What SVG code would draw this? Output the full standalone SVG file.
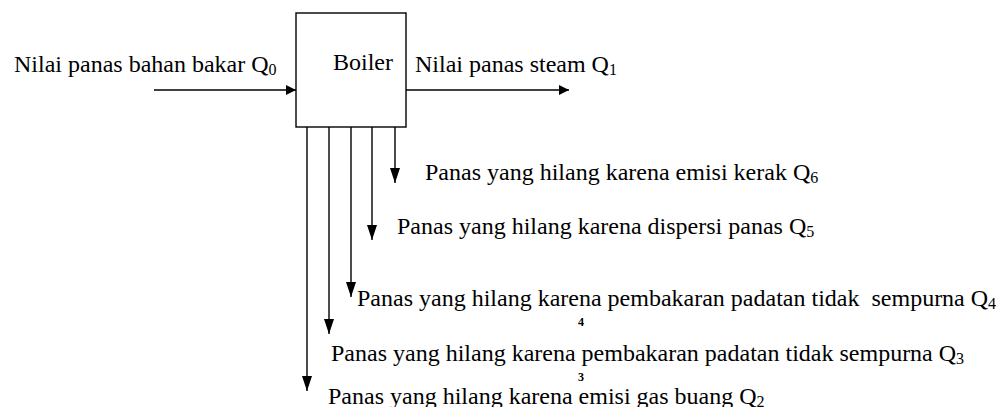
<svg xmlns="http://www.w3.org/2000/svg" width="1003" height="407" viewBox="0 0 1003 407">
<defs>
<marker id="ah" viewBox="0 0 10 10" refX="10" refY="5" markerWidth="10" markerHeight="10" markerUnits="userSpaceOnUse" orient="auto">
<path d="M0,0 L10,5 L0,10 Z" fill="#000"/>
</marker>
<marker id="av" viewBox="0 0 15 10" refX="15" refY="5" markerWidth="15" markerHeight="10" markerUnits="userSpaceOnUse" orient="auto">
<path d="M0,0 L15,5 L0,10 Z" fill="#000"/>
</marker>
</defs>
<style>
text{font-family:"Liberation Serif","Times New Roman",serif;font-size:24px;fill:#000}
.sub{font-size:16px}
.tiny{font-size:12px;font-weight:bold}
.ln{stroke:#000;stroke-width:1.4;fill:none}
</style>
<rect width="1003" height="407" fill="#fff"/>
<g id="boiler">
<rect x="296" y="13" width="110" height="114" class="ln"/>
<text x="333" y="70">Boiler</text>
</g>
<g id="connectors">
<line x1="154" y1="90" x2="296" y2="90" class="ln" marker-end="url(#ah)"/>
<line x1="406" y1="90" x2="569" y2="90" class="ln" marker-end="url(#ah)"/>
<line x1="395" y1="127" x2="395" y2="183" class="ln" marker-end="url(#av)"/>
<line x1="372" y1="127" x2="372" y2="240" class="ln" marker-end="url(#av)"/>
<line x1="351" y1="127" x2="351" y2="297" class="ln" marker-end="url(#av)"/>
<line x1="329" y1="127" x2="329" y2="334" class="ln" marker-end="url(#av)"/>
<line x1="307" y1="127" x2="307" y2="391" class="ln" marker-end="url(#av)"/>
</g>
<g id="q0"><text x="14" y="72">Nilai panas bahan bakar Q<tspan class="sub" dy="3">0</tspan></text></g>
<g id="q1"><text x="415" y="72">Nilai panas steam Q<tspan class="sub" dy="3">1</tspan></text></g>
<g id="q6"><text x="425" y="180">Panas yang hilang karena emisi kerak Q<tspan class="sub" dy="3">6</tspan></text></g>
<g id="q5"><text x="397" y="234">Panas yang hilang karena dispersi panas Q<tspan class="sub" dy="3">5</tspan></text></g>
<g id="q4"><text x="357" y="306" xml:space="preserve">Panas yang hilang karena pembakaran padatan tidak  sempurna Q<tspan class="sub" dy="3">4</tspan></text>
<text x="578" y="326" class="tiny">4</text></g>
<g id="q3"><text x="331" y="361">Panas yang hilang karena pembakaran padatan tidak sempurna Q<tspan class="sub" dy="3">3</tspan></text>
<text x="578" y="381" class="tiny">3</text></g>
<g id="q2"><text x="328" y="404">Panas yang hilang karena emisi gas buang Q<tspan class="sub" dy="3">2</tspan></text></g>
</svg>
